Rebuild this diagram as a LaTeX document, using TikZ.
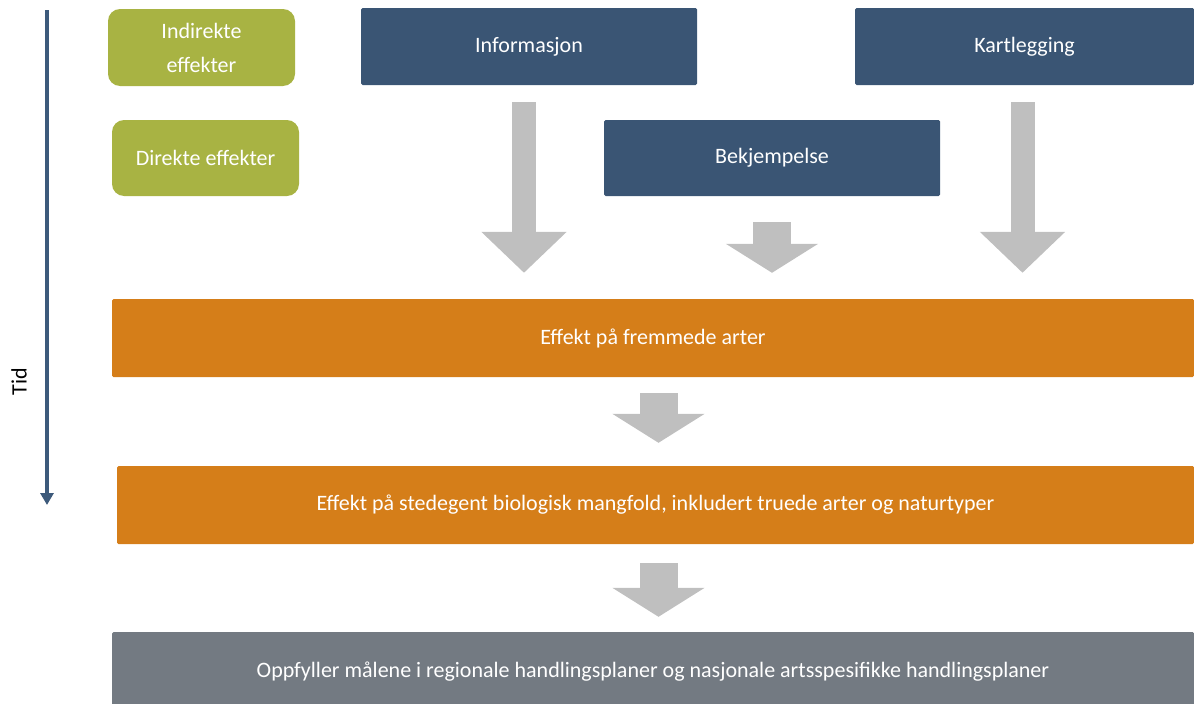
\documentclass[tikz,border=0pt]{standalone}
\usepackage{fontspec}
\setmainfont{Carlito}
\usetikzlibrary{arrows.meta}
\definecolor{effgreen}{HTML}{A8B343}
\definecolor{tiltakblue}{HTML}{3A5574}
\definecolor{effektorange}{HTML}{D57E19}
\definecolor{maalgray}{HTML}{737A82}
\definecolor{pilgray}{HTML}{BFBFBF}
\definecolor{tidblue}{HTML}{3D5A7B}
\begin{document}
\begin{tikzpicture}[x=1pt,y=-1pt,
  every node/.style={font=\fontsize{22}{34}\selectfont},
  tag node/.style={rounded corners=12pt,fill=effgreen,text=white,align=center,minimum width=187pt},
  tiltak node/.style={fill=tiltakblue,text=white,rounded corners=1.5pt},
  effekt node/.style={fill=effektorange,text=white,minimum height=78pt,rounded corners=1.5pt},
  big arrow/.style={draw=pilgray,line width=24pt,-{Triangle[width=83pt 0 0,length=41pt 0 0]}},
  small arrow/.style={draw=pilgray,line width=38pt,-{Triangle[width=91pt 0 0,length=29pt 0 0]}}]

  \useasboundingbox (0,0) rectangle (1194,704);

  % tidslinje
  \coordinate (tidstart) at (47,10);
  \coordinate (tidslutt) at (47,505);
  \draw[tidblue,line width=4pt,-{Triangle[width=13pt 0 0,length=12pt 0 0]}] (tidstart) -- (tidslutt);
  \node[rotate=90] (tid) at (19,382) {Tid};

  % effekttyper
  \node[tag node,minimum height=77pt] (indir) at (201.5,47.5) {Indirekte\\effekter};
  \node[tag node,minimum height=76pt] (dir) at (205.5,158) {Direkte effekter};

  % tiltak
  \node[tiltak node,minimum width=336pt,minimum height=77pt] (info) at (529,46.5) {Informasjon};
  \node[tiltak node,minimum width=339pt,minimum height=77pt] (kart) at (1024.5,46.5) {Kartlegging};
  \node[tiltak node,minimum width=336pt,minimum height=76pt] (bekj) at (772,158) {Bekjempelse};

  % effekter
  \node[effekt node,minimum width=1082pt] (fremmede) at (653,338) {Effekt på fremmede arter};
  \node[effekt node,minimum width=1077pt] (stedegent) at (655.5,505) {Effekt på stedegent biologisk mangfold, inkludert truede arter og naturtyper};
  \node[fill=maalgray,text=white,minimum width=1082pt,minimum height=80pt,rounded corners=1.5pt] (maal) at (653,672) {Oppfyller målene i regionale handlingsplaner og nasjonale artsspesifikke handlingsplaner};

  % piler
  \draw[big arrow,shorten <=17pt,shorten >=26pt] ([xshift=-5pt]info.south) -- ([xshift=-5pt]info.south |- fremmede.north);
  \draw[small arrow,shorten <=26pt,shorten >=26pt] (bekj.south) -- (bekj.south |- fremmede.north);
  \draw[big arrow,shorten <=17pt,shorten >=26pt] ([xshift=-2pt]kart.south) -- ([xshift=-2pt]kart.south |- fremmede.north);
  \draw[small arrow,shorten <=16pt,shorten >=23pt] ([xshift=3pt]stedegent.north |- fremmede.south) -- ([xshift=3pt]stedegent.north);
  \draw[small arrow,shorten <=19pt,shorten >=15pt] ([xshift=3pt]stedegent.south) -- ([xshift=3pt]stedegent.south |- maal.north);
\end{tikzpicture}
\end{document}
